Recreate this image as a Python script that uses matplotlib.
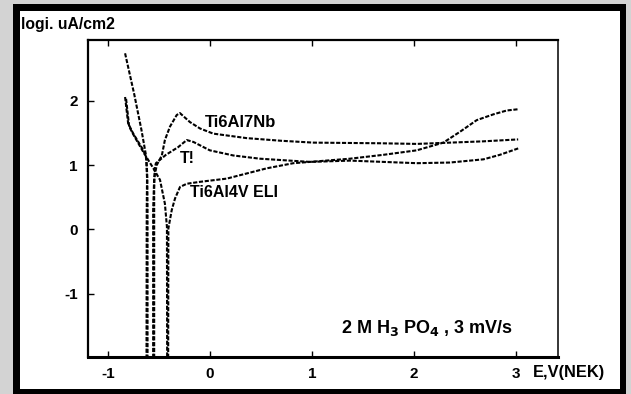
import numpy as np
import matplotlib.pyplot as plt
from matplotlib.patches import Rectangle

plt.rcParams['font.family'] = ['Liberation Sans', 'DejaVu Sans']
plt.rcParams['axes.unicode_minus'] = False

# potential E (V) and log i (uA/cm2), one list per branch
ti7nb_cath_E = [-0.83, -0.74, -0.67, -0.625, -0.615, -0.618, -0.62]
ti7nb_cath_i = [2.74, 2.10, 1.55, 1.15, 0.80, 0.30, -2.0]
ti7nb_anod_E = [-0.555, -0.555, -0.545, -0.52, -0.47, -0.44, -0.39, -0.324, -0.293,
                -0.195, -0.096, 0.034, 0.361, 0.688, 1.014, 1.667, 2.026, 2.353, 2.679, 3.02]
ti7nb_anod_i = [-2.0, 0.30, 0.80, 1.00, 1.15, 1.39, 1.60, 1.78, 1.81,
                1.67, 1.57, 1.49, 1.42, 1.38, 1.35, 1.34, 1.33, 1.35, 1.37, 1.40]

ti_cath_E = [-0.83, -0.80, -0.75, -0.65, -0.62, -0.612, -0.61, -0.61]
ti_cath_i = [2.06, 1.65, 1.49, 1.23, 1.10, 0.80, 0.30, -2.0]
ti_anod_E = [-0.545, -0.545, -0.54, -0.528, -0.43, -0.31, -0.226, -0.16, 0.0, 0.23,
             0.49, 0.98, 1.373, 1.70, 2.03, 2.35, 2.68, 2.84, 3.02]
ti_anod_i = [-2.0, 0.60, 0.95, 1.03, 1.16, 1.28, 1.39, 1.36, 1.23, 1.15,
             1.10, 1.05, 1.07, 1.05, 1.03, 1.04, 1.09, 1.16, 1.26]

ti4v_cath_E = [-0.82, -0.79, -0.74, -0.65, -0.553, -0.488, -0.44, -0.42, -0.418]
ti4v_cath_i = [2.03, 1.60, 1.45, 1.20, 0.95, 0.77, 0.40, 0.04, -2.0]
ti4v_anod_E = [-0.408, -0.406, -0.373, -0.341, -0.292, -0.226, -0.096, 0.166, 0.361,
               0.557, 0.818, 0.981, 1.373, 1.699, 2.026, 2.287, 2.451, 2.614, 2.777, 2.908, 3.022]
ti4v_anod_i = [-2.0, 0.014, 0.30, 0.48, 0.66, 0.71, 0.74, 0.79, 0.87,
               0.95, 1.03, 1.05, 1.10, 1.16, 1.23, 1.35, 1.52, 1.70, 1.79, 1.85, 1.87]

branches = [
    (ti7nb_cath_E, ti7nb_cath_i), (ti7nb_anod_E, ti7nb_anod_i),
    (ti_cath_E, ti_cath_i), (ti_anod_E, ti_anod_i),
    (ti4v_cath_E, ti4v_cath_i), (ti4v_anod_E, ti4v_anod_i),
]

W, H = 631, 394
fig = plt.figure(figsize=(W / 100, H / 100), dpi=100)
fig.patch.set_facecolor('#d3d3d3')

# black picture frame with white inside
fig.add_artist(Rectangle((13 / W, 0), 613 / W, 1 - 4 / H, transform=fig.transFigure,
                         facecolor='black', edgecolor='none', zorder=-2))
fig.add_artist(Rectangle((20 / W, 1 - 389 / H), 600 / W, 378 / H, transform=fig.transFigure,
                         facecolor='white', edgecolor='none', zorder=-1))

ax = fig.add_axes([87.5 / W, 1 - 357 / H, 470 / W, 317 / H])
ax.set_facecolor('white')

for E, logi in branches:
    ax.plot(E, logi, color='black', lw=1.5, ls=(0, (2.0, 0.8)))

ax.set_xlim(-1.198, 3.405)
ax.set_ylim(-1.986, 2.947)
ax.set_xticks([-1, 0, 1, 2, 3])
ax.set_yticks([-1, 0, 1, 2])
ax.tick_params(direction='in', length=4, width=1, pad=7, labelsize=11,
               top=True, right=False)
for lab in ax.get_xticklabels() + ax.get_yticklabels():
    lab.set_fontweight('bold')

ax.spines['bottom'].set_linewidth(2.2)
ax.spines['left'].set_linewidth(1.6)
ax.spines['top'].set_linewidth(1.6)
ax.spines['right'].set_linewidth(1.1)

ax.text(-0.047, 1.67, 'Ti6Al7Nb', fontsize=12, fontweight='bold', va='center')
ax.text(-0.292, 1.11, 'T!', fontsize=11.5, fontweight='bold', va='center')
ax.text(-0.194, 0.58, 'Ti6Al4V ELI', fontsize=11.5, fontweight='bold', va='center')
ax.text(2.13, -1.54, r'2 M H$_\mathbf{3}$ PO$_\mathbf{4}$ , 3 mV/s', fontsize=13,
        fontweight='bold', ha='center', va='center')

fig.text(21 / W, 1 - 25 / H, 'logi. uA/cm2', fontsize=11.3, fontweight='bold', va='center')
fig.text(533 / W, 1 - 372 / H, 'E,V(NEK)', fontsize=11.8, fontweight='bold', va='center')

fig.savefig('out.png', dpi=100, facecolor=fig.get_facecolor())
